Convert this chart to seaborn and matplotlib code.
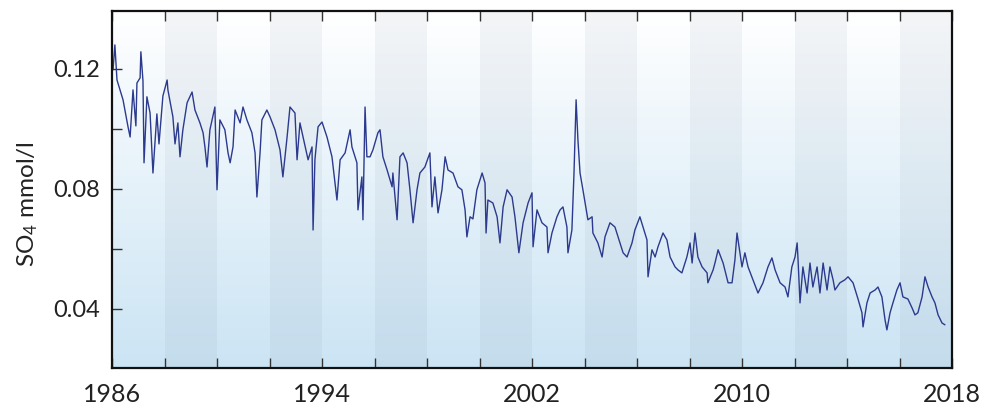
import numpy as np
import pandas as pd
import matplotlib
matplotlib.use("Agg")
import matplotlib.pyplot as plt
import seaborn as sns

# ---- data (decimal year, SO4 mmol/l) ----
years = [1986.04, 1986.11, 1986.19, 1986.42, 1986.61, 1986.69, 1986.80, 1986.91, 1986.95,
         1987.07, 1987.10, 1987.18, 1987.22, 1987.33, 1987.45, 1987.56, 1987.71, 1987.79, 1987.94,
         1988.10, 1988.13, 1988.32, 1988.40, 1988.51, 1988.59, 1988.70, 1988.86,
         1989.05, 1989.16, 1989.35, 1989.47, 1989.54, 1989.62, 1989.73, 1989.92,
         1990.00, 1990.11, 1990.30, 1990.42, 1990.50, 1990.61, 1990.69, 1990.88, 1990.99,
         1991.14, 1991.33, 1991.45, 1991.52, 1991.64, 1991.71, 1991.90,
         1992.02, 1992.21, 1992.40, 1992.51, 1992.67, 1992.78, 1992.97,
         1993.05, 1993.16, 1993.28, 1993.47, 1993.62, 1993.66, 1993.73, 1993.85,
         1994.00, 1994.19, 1994.38, 1994.57, 1994.69, 1994.88,
         1995.07, 1995.14, 1995.33, 1995.37, 1995.52, 1995.56, 1995.64, 1995.71, 1995.83, 1995.94,
         1996.13, 1996.21, 1996.32, 1996.48, 1996.67, 1996.70, 1996.86, 1996.97,
         1997.09, 1997.24, 1997.35, 1997.47, 1997.62, 1997.73, 1997.92,
         1998.11, 1998.19, 1998.30, 1998.42, 1998.57, 1998.69, 1998.80, 1998.99,
         1999.18, 1999.33, 1999.45, 1999.52, 1999.64, 1999.75, 1999.90,
         2000.10, 2000.21, 2000.25, 2000.32, 2000.51, 2000.67, 2000.78, 2000.90,
         2001.05, 2001.24, 2001.35, 2001.50, 2001.66, 2001.85,
         2002.00, 2002.04, 2002.19, 2002.38, 2002.57, 2002.61, 2002.76, 2002.95,
         2003.07, 2003.18, 2003.33, 2003.37, 2003.52, 2003.60, 2003.68, 2003.75, 2003.83, 2003.94,
         2004.13, 2004.29, 2004.32, 2004.51, 2004.67, 2004.78, 2004.97,
         2005.16, 2005.35, 2005.47, 2005.62, 2005.81, 2005.92,
         2006.11, 2006.23, 2006.38, 2006.42, 2006.57, 2006.69, 2006.80, 2006.99,
         2007.14, 2007.26, 2007.45, 2007.56, 2007.71, 2007.90,
         2008.02, 2008.10, 2008.21, 2008.32, 2008.48, 2008.67, 2008.70, 2008.90, 2008.97,
         2009.09, 2009.28, 2009.47, 2009.62, 2009.73, 2009.81, 2009.92,
         2010.00, 2010.11, 2010.23, 2010.42, 2010.61, 2010.80, 2010.99,
         2011.14, 2011.26, 2011.45, 2011.64, 2011.75, 2011.90,
         2012.02, 2012.10, 2012.13, 2012.21, 2012.32, 2012.48, 2012.59, 2012.70, 2012.86, 2012.97,
         2013.09, 2013.24, 2013.35, 2013.47, 2013.54, 2013.73, 2013.92,
         2014.04, 2014.23, 2014.42, 2014.57, 2014.61, 2014.76, 2014.88,
         2015.07, 2015.18, 2015.33, 2015.45, 2015.52, 2015.64, 2015.75, 2015.90,
         2016.02, 2016.13, 2016.32, 2016.48, 2016.59, 2016.70, 2016.86, 2016.97,
         2017.09, 2017.24, 2017.35, 2017.47, 2017.62, 2017.73]
so4 = [0.1197, 0.1280, 0.1163, 0.1097, 0.1007, 0.0973, 0.1130, 0.1010, 0.1153,
       0.1170, 0.1257, 0.1160, 0.0887, 0.1107, 0.1053, 0.0853, 0.1050, 0.0950, 0.1110,
       0.1163, 0.1130, 0.1040, 0.0950, 0.1020, 0.0907, 0.0997, 0.1087,
       0.1123, 0.1063, 0.1020, 0.0987, 0.0940, 0.0873, 0.0997, 0.1073,
       0.0797, 0.1030, 0.0997, 0.0920, 0.0887, 0.0940, 0.1063, 0.1020, 0.1073,
       0.1030, 0.0987, 0.0920, 0.0773, 0.0920, 0.1030, 0.1063,
       0.1040, 0.0997, 0.0930, 0.0840, 0.0973, 0.1073, 0.1053,
       0.0897, 0.1020, 0.0973, 0.0897, 0.0940, 0.0663, 0.0897, 0.1007,
       0.1023, 0.0973, 0.0907, 0.0763, 0.0897, 0.0920,
       0.0997, 0.0940, 0.0887, 0.0730, 0.0840, 0.0697, 0.1073, 0.0907, 0.0907, 0.0930,
       0.0987, 0.0997, 0.0907, 0.0863, 0.0807, 0.0853, 0.0697, 0.0907,
       0.0920, 0.0887, 0.0797, 0.0687, 0.0797, 0.0853, 0.0873,
       0.0920, 0.0740, 0.0840, 0.0720, 0.0797, 0.0907, 0.0863, 0.0853,
       0.0807, 0.0797, 0.0730, 0.0640, 0.0707, 0.0700, 0.0797,
       0.0853, 0.0820, 0.0653, 0.0763, 0.0753, 0.0707, 0.0620, 0.0740,
       0.0797, 0.0773, 0.0707, 0.0587, 0.0687, 0.0753,
       0.0787, 0.0607, 0.0730, 0.0687, 0.0673, 0.0587, 0.0653, 0.0707,
       0.0730, 0.0740, 0.0673, 0.0587, 0.0663, 0.0853, 0.1097, 0.0963, 0.0853, 0.0797,
       0.0697, 0.0707, 0.0653, 0.0620, 0.0573, 0.0640, 0.0687,
       0.0673, 0.0620, 0.0587, 0.0573, 0.0620, 0.0663,
       0.0707, 0.0673, 0.0630, 0.0507, 0.0597, 0.0573, 0.0607, 0.0653,
       0.0630, 0.0573, 0.0540, 0.0530, 0.0520, 0.0573,
       0.0620, 0.0553, 0.0653, 0.0573, 0.0540, 0.0520, 0.0487, 0.0530, 0.0553,
       0.0597, 0.0553, 0.0487, 0.0487, 0.0563, 0.0653, 0.0587,
       0.0540, 0.0587, 0.0540, 0.0497, 0.0453, 0.0487, 0.0540,
       0.0570, 0.0530, 0.0487, 0.0473, 0.0440, 0.0540,
       0.0573, 0.0620, 0.0573, 0.0420, 0.0540, 0.0453, 0.0553, 0.0473, 0.0540, 0.0453,
       0.0553, 0.0463, 0.0540, 0.0497, 0.0463, 0.0487, 0.0497,
       0.0507, 0.0487, 0.0433, 0.0387, 0.0340, 0.0420, 0.0453,
       0.0463, 0.0473, 0.0440, 0.0363, 0.0330, 0.0387, 0.0420, 0.0463,
       0.0487, 0.0440, 0.0433, 0.0403, 0.0380, 0.0387, 0.0440, 0.0507,
       0.0473, 0.0440, 0.0420, 0.0380, 0.0353, 0.0347]

x_ticks = list(range(1986, 2019, 2))
x_labels = ["1986", "", "", "", "1994", "", "", "", "2002", "", "", "", "2010", "", "", "", "2018"]
y_ticks = [0.04, 0.06, 0.08, 0.10, 0.12]
y_labels = ["0.04", "", "0.08", "", "0.12"]
shaded_starts = list(range(1988, 2018, 4))

df = pd.DataFrame({"year": years, "so4": so4})

sns.set_theme(style="ticks")
plt.rcParams["font.family"] = ["Lato", "DejaVu Sans"]
plt.rcParams["mathtext.default"] = "regular"

fig = plt.figure(figsize=(9.99, 4.09), dpi=100)
ax = fig.add_axes([112 / 999, 1 - 368 / 409, (952 - 112) / 999, (368 - 11) / 409])

xmin, xmax = 1986, 2018
ymin, ymax = 0.0203, 0.1393

# vertical gradient background: white at top -> light blue at bottom
grad = np.linspace(0, 1, 256).reshape(-1, 1)
top = np.array([1.0, 1.0, 1.0])
bot = np.array([203, 228, 244]) / 255.0
img = top[None, None, :] * (1 - grad[:, :, None]) + bot[None, None, :] * grad[:, :, None]
ax.imshow(img, extent=[xmin, xmax, ymin, ymax], aspect="auto", zorder=0, origin="upper")
for s in shaded_starts:
    ax.axvspan(s, s + 2, color=(0.25, 0.33, 0.45), alpha=0.055, lw=0, zorder=0.5)

sns.lineplot(data=df, x="year", y="so4", ax=ax, color="#2c3a8e", lw=1.0, zorder=2)

ax.set_xlim(xmin, xmax)
ax.set_ylim(ymin, ymax)
ax.set_xticks(x_ticks)
ax.set_xticklabels(x_labels)
ax.set_yticks(y_ticks)
ax.set_yticklabels(y_labels)
ax.tick_params(axis="both", direction="in", length=7, width=1.0, color="#333333",
               top=True, right=False)
ax.tick_params(axis="x", labelsize=18, pad=11, labelcolor="#222222")
ax.tick_params(axis="y", labelsize=17, pad=9, labelcolor="#222222")
ax.set_xlabel("")
ax.set_ylabel(r"SO$_4$ mmol/l", fontsize=17.5, color="#222222")
ax.yaxis.set_label_coords(-0.086, 0.46)
for sp in ax.spines.values():
    sp.set_visible(True)
    sp.set_linewidth(1.6)
    sp.set_color("#111111")

fig.savefig("out.png", dpi=100)
